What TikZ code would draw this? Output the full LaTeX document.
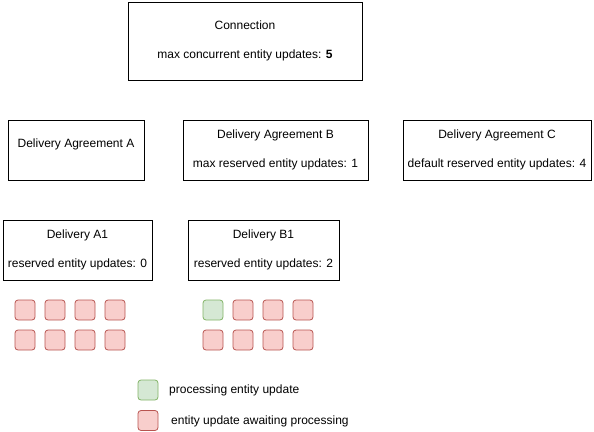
\documentclass[tikz,border=0pt]{standalone}
\usepackage{fontspec}
\usepackage{xcolor}
\usepackage{tikz}
\setmainfont{Liberation Sans}
\definecolor{waitfill}{HTML}{F8CECC}
\definecolor{waitline}{HTML}{B85450}
\definecolor{procfill}{HTML}{D5E8D4}
\definecolor{procline}{HTML}{82B366}

\begin{document}
\begin{tikzpicture}[x=1pt, y=-1pt,
  box/.style={draw, rectangle, line width=0.8pt, align=center, inner sep=0pt,
    font=\fontsize{12}{28.8}\selectfont},
  upd/.style={draw, rectangle, rounded corners=3pt, line width=0.8pt,
    minimum size=20pt, inner sep=0pt},
  waiting/.style={upd, fill=waitfill, draw=waitline},
  processing/.style={upd, fill=procfill, draw=procline},
  legtext/.style={anchor=west, inner sep=0pt, font=\fontsize{12}{14}\selectfont}]
\useasboundingbox (0,0) rectangle (594,431);

% Connection
\node[box, minimum width=234pt, minimum height=78pt] (conn) at (245,41)
  {Connection\\max concurrent entity updates: \textbf{5}};

% Delivery agreements
\node[box, minimum width=136pt, minimum height=60pt, text depth=14pt] (agrA) at (76,150)
  {Delivery Agreement A};
\node[box, minimum width=185pt, minimum height=60pt] (agrB) at (275.5,150)
  {Delivery Agreement B\\max reserved entity updates: 1};
\node[box, minimum width=188pt, minimum height=60pt] (agrC) at (497,150)
  {Delivery Agreement C\\default reserved entity updates: 4};

% Deliveries
\node[box, minimum width=149pt, minimum height=60pt] (delA) at (77.5,250)
  {Delivery A1\\reserved entity updates: 0};
\node[box, minimum width=151pt, minimum height=60pt] (delB) at (263.5,250)
  {Delivery B1\\reserved entity updates: 2};

% Entity updates of A1
\node[waiting] (qa1) at (25,310) {};
\node[waiting] (qa2) at (55,310) {};
\node[waiting] (qa3) at (85,310) {};
\node[waiting] (qa4) at (115,310) {};
\node[waiting] (qa5) at (25,340) {};
\node[waiting] (qa6) at (55,340) {};
\node[waiting] (qa7) at (85,340) {};
\node[waiting] (qa8) at (115,340) {};

% Entity updates of B1
\node[processing] (qb1) at (213,310) {};
\node[waiting] (qb2) at (243,310) {};
\node[waiting] (qb3) at (273,310) {};
\node[waiting] (qb4) at (303,310) {};
\node[waiting] (qb5) at (213,340) {};
\node[waiting] (qb6) at (243,340) {};
\node[waiting] (qb7) at (273,340) {};
\node[waiting] (qb8) at (303,340) {};

% Legend
\node[processing] (legproc) at (148,390) {};
\node[waiting] (legwait) at (148,420.5) {};
\node[legtext] (txtproc) at (169,390) {processing entity update};
\node[legtext] (txtwait) at (171,421) {entity update awaiting processing};
\end{tikzpicture}
\end{document}
